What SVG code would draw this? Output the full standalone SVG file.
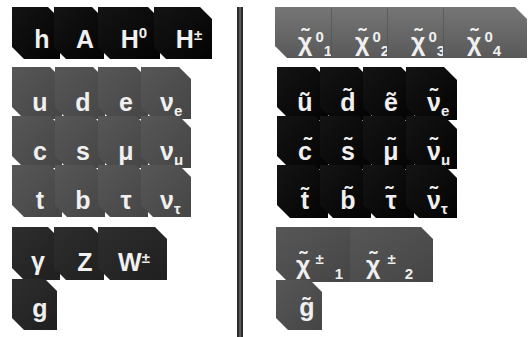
<svg xmlns="http://www.w3.org/2000/svg" width="529" height="337" viewBox="0 0 529 337">
<defs>
<linearGradient id="gBlack" x1="0" y1="0" x2="1" y2="1"><stop offset="0" stop-color="#141414"/><stop offset="1" stop-color="#030303"/></linearGradient>
<linearGradient id="gGray" x1="0" y1="0" x2="1" y2="1"><stop offset="0" stop-color="#575757"/><stop offset="1" stop-color="#454545"/></linearGradient>
<linearGradient id="gDark" x1="0" y1="0" x2="1" y2="1"><stop offset="0" stop-color="#2e2e2e"/><stop offset="1" stop-color="#1f1f1f"/></linearGradient>
<linearGradient id="gNeu" x1="0" y1="0" x2="0" y2="1"><stop offset="0" stop-color="#767676"/><stop offset="1" stop-color="#595959"/></linearGradient>
</defs>
<style>
.black{fill:url(#gBlack)}
.gray{fill:url(#gGray)}
.dark{fill:url(#gDark)}
.neu{fill:url(#gNeu)}
text{font-family:"Liberation Sans","DejaVu Sans",Arial,sans-serif;font-weight:bold;fill:#f0f0f0;font-size:25px}
.m{text-anchor:middle}
.s{font-size:15px}
.div{stroke:#505050;stroke-width:1;opacity:.6}
</style>
<rect width="529" height="337" fill="#ffffff"/>
<!-- separator -->
<g id="separator"><rect x="237" y="7" width="6" height="330" fill="#2c2c2c"/><rect x="239.3" y="7" width="1.5" height="330" fill="#6a6a6a"/></g>

<!-- Higgs -->
<g id="h"><path class="black" d="M12,7 H48 L60,19 V59 H24 L12,47 Z"/><text class="m" x="42" y="48">h</text></g>
<g id="A"><path class="black" d="M54,7 H92 L104,19 V59 H66 L54,47 Z"/><text class="m" x="85" y="48">A</text></g>
<g id="H0"><path class="black" d="M98,7 H148 L160,19 V59 H110 L98,47 Z"/><text class="m" x="134" y="48">H<tspan class="s" dy="-10">0</tspan></text></g>
<g id="Hpm"><path class="black" d="M154,7 H200 L212,19 V59 H166 L154,47 Z"/><text class="m" x="189" y="48">H<tspan class="s" font-size="17" dy="-8">±</tspan></text></g>

<!-- Fermions -->
<g id="u"><path class="gray" d="M12,67 H50 L62,79 V119 H24 L12,107 Z"/><text class="m" x="40" y="111">u</text></g>
<g id="d"><path class="gray" d="M55,67 H93 L105,79 V119 H67 L55,107 Z"/><text class="m" x="83" y="111">d</text></g>
<g id="e"><path class="gray" d="M98,67 H136 L148,79 V119 H110 L98,107 Z"/><text class="m" x="126" y="111">e</text></g>
<g id="nu_e"><path class="gray" d="M141,67 H179 L191,79 V119 H153 L141,107 Z"/><text x="160" y="111">ν<tspan class="s" dy="5">e</tspan></text></g>
<g id="c"><path class="gray" d="M12,116 H50 L62,128 V168 H24 L12,156 Z"/><text class="m" x="40" y="160">c</text></g>
<g id="s"><path class="gray" d="M55,116 H93 L105,128 V168 H67 L55,156 Z"/><text class="m" x="83" y="160">s</text></g>
<g id="mu"><path class="gray" d="M98,116 H136 L148,128 V168 H110 L98,156 Z"/><text class="m" x="126" y="160">μ</text></g>
<g id="nu_mu"><path class="gray" d="M141,116 H179 L191,128 V168 H153 L141,156 Z"/><text x="160" y="160">ν<tspan class="s" dy="5">μ</tspan></text></g>
<g id="t"><path class="gray" d="M12,165 H50 L62,177 V217 H24 L12,205 Z"/><text class="m" x="40" y="209">t</text></g>
<g id="b"><path class="gray" d="M55,165 H93 L105,177 V217 H67 L55,205 Z"/><text class="m" x="83" y="209">b</text></g>
<g id="tau"><path class="gray" d="M98,165 H136 L148,177 V217 H110 L98,205 Z"/><text class="m" x="126" y="209">τ</text></g>
<g id="nu_tau"><path class="gray" d="M141,165 H179 L191,177 V217 H153 L141,205 Z"/><text x="160" y="209">ν<tspan class="s" dy="5">τ</tspan></text></g>

<!-- Gauge bosons -->
<g id="gamma"><path class="dark" d="M12,227 H48 L60,239 V280 H24 L12,268 Z"/><text class="m" x="38" y="270">γ</text></g>
<g id="Z"><path class="dark" d="M54,227 H92 L104,239 V280 H66 L54,268 Z"/><text class="m" x="85" y="271">Z</text></g>
<g id="W"><path class="dark" d="M98,227 H155 L167,239 V280 H110 L98,268 Z"/><text class="m" x="134" y="271">W<tspan class="s" font-size="17" dy="-8">±</tspan></text></g>
<g id="g"><path class="dark" d="M12,279 H45 L57,291 V330 H24 L12,318 Z"/><text class="m" x="40" y="317">g</text></g>

<!-- Neutralinos -->
<g id="neutralino1"><path class="neu" d="M275,7 H332 V58 H287 L275,46 Z"/><text x="298" y="51">χ̃<tspan class="s" dx="3" dy="-9">0</tspan><tspan class="s" dy="14">1</tspan></text></g>
<g id="neutralino2"><path class="neu" d="M331,7 H388 V58 H331 Z"/><text x="355" y="51">χ̃<tspan class="s" dx="3" dy="-9">0</tspan><tspan class="s" dy="14">2</tspan></text></g>
<g id="neutralino3"><path class="neu" d="M387,7 H444 V58 H387 Z"/><text x="411" y="51">χ̃<tspan class="s" dx="3" dy="-9">0</tspan><tspan class="s" dy="14">3</tspan><tspan class="s" dx="4">.</tspan></text></g>
<g id="neutralino4"><path class="neu" d="M443,7 H515 L527,19 V58 H443 Z"/><text x="467" y="51">χ̃<tspan class="s" dx="3" dy="-9">0</tspan><tspan class="s" dy="14">4</tspan></text></g>
<g id="neutralino-dividers"><line class="div" x1="331.5" y1="8" x2="331.5" y2="58"/><line class="div" x1="387.5" y1="8" x2="387.5" y2="58"/><line class="div" x1="443.5" y1="8" x2="443.5" y2="58"/></g>

<!-- Sfermions -->
<g id="su"><path class="black" d="M277,67 H315 L328,80 V120 H290 L277,107 Z"/><text class="m" x="305" y="111">ũ</text></g>
<g id="sd"><path class="black" d="M320,67 H358 L371,80 V120 H333 L320,107 Z"/><text class="m" x="348" y="111">d̃</text></g>
<g id="se"><path class="black" d="M363,67 H401 L414,80 V120 H376 L363,107 Z"/><text class="m" x="391" y="111">ẽ</text></g>
<g id="snu_e"><path class="black" d="M406,67 H444 L457,80 V120 H419 L406,107 Z"/><text x="427" y="111">ν̃<tspan class="s" dy="5">e</tspan></text></g>
<g id="sc"><path class="black" d="M277,116 H315 L328,129 V169 H290 L277,156 Z"/><text class="m" x="305" y="160">c̃</text></g>
<g id="ss"><path class="black" d="M320,116 H358 L371,129 V169 H333 L320,156 Z"/><text class="m" x="348" y="160">s̃</text></g>
<g id="smu"><path class="black" d="M363,116 H401 L414,129 V169 H376 L363,156 Z"/><text class="m" x="391" y="160">μ̃</text></g>
<g id="snu_mu"><path class="black" d="M406,116 H444 L457,129 V169 H419 L406,156 Z"/><text x="427" y="160">ν̃<tspan class="s" dy="5">μ</tspan></text></g>
<g id="st"><path class="black" d="M277,165 H315 L328,178 V218 H290 L277,205 Z"/><text class="m" x="305" y="209">t̃</text></g>
<g id="sb"><path class="black" d="M320,165 H358 L371,178 V218 H333 L320,205 Z"/><text class="m" x="348" y="209">b̃</text></g>
<g id="stau"><path class="black" d="M363,165 H401 L414,178 V218 H376 L363,205 Z"/><text class="m" x="391" y="209">τ̃</text></g>
<g id="snu_tau"><path class="black" d="M406,165 H444 L457,178 V218 H419 L406,205 Z"/><text x="427" y="209">ν̃<tspan class="s" dy="5">τ</tspan></text></g>

<!-- Charginos -->
<g id="chargino1"><path class="gray" d="M276,227 H351 V282 H288 L276,270 Z"/><text x="296" y="274">χ̃<tspan class="s" dx="5" dy="-10">±</tspan><tspan class="s" dx="11" dy="15">1</tspan></text></g>
<g id="chargino2"><path class="gray" d="M350,227 H421 L433,239 V282 H350 Z"/><text x="366" y="274">χ̃<tspan class="s" dx="7" dy="-10">±</tspan><tspan class="s" dx="9" dy="15">2</tspan></text></g>
<line class="div" x1="350.5" y1="228" x2="350.5" y2="282"/>
<g id="gluino"><path class="gray" d="M276,280 H310 L322,292 V330 H288 L276,318 Z"/><text class="m" x="307" y="316">g̃</text></g>
</svg>
